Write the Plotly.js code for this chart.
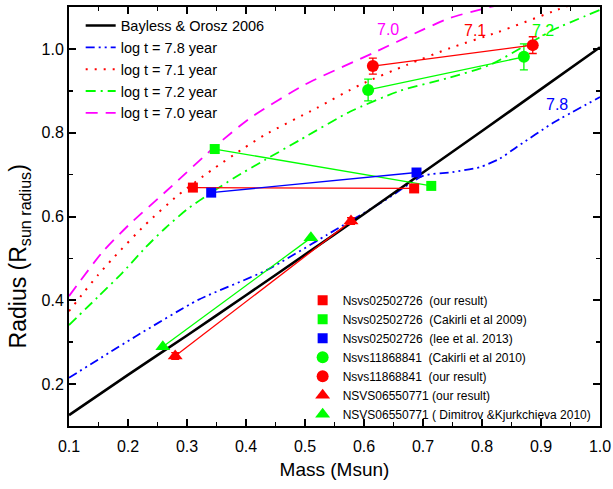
<!DOCTYPE html>
<html>
<head>
<meta charset="utf-8">
<script src="https://cdn.plot.ly/plotly-3.0.1.min.js"></script>
<style>html,body{margin:0;padding:0;background:#fff;}#chart{width:613px;height:489px;}</style>
</head>
<body>
<div id="chart"></div>
<script>
// Bayless & Orosz 2006 relation
const boMass = [0.1, 0.2, 0.3, 0.4, 0.5, 0.6, 0.7, 0.8, 0.9, 1.0];
const boRadius = [0.126, 0.222, 0.316, 0.412, 0.509, 0.606, 0.705, 0.804, 0.904, 1.004];

// Isochrones
const iso78Mass = [0.1, 0.212, 0.319, 0.435, 0.537, 0.636, 0.70, 0.75, 0.797, 0.83, 0.859, 0.92, 1.0];
const iso78Radius = [0.215, 0.313, 0.401, 0.472, 0.556, 0.639, 0.697, 0.706, 0.718, 0.738, 0.766, 0.823, 0.885];

const iso71Mass = [0.1, 0.124, 0.149, 0.175, 0.229, 0.285, 0.342, 0.393, 0.432, 0.52, 0.593, 0.673, 0.746, 0.827, 0.927, 0.95];
const iso71Radius = [0.374, 0.417, 0.46, 0.501, 0.58, 0.651, 0.711, 0.76, 0.795, 0.859, 0.914, 0.962, 1.002, 1.04, 1.093, 1.105];

const iso72Mass = [0.1, 0.149, 0.19, 0.229, 0.263, 0.3, 0.341, 0.381, 0.432, 0.492, 0.576, 0.661, 0.741, 0.814, 0.881, 0.92, 1.0];
const iso72Radius = [0.341, 0.408, 0.465, 0.525, 0.572, 0.617, 0.657, 0.693, 0.735, 0.783, 0.85, 0.90, 0.93, 0.962, 1.014, 1.045, 1.093];

const iso70Mass = [0.1, 0.156, 0.2, 0.266, 0.35, 0.407, 0.5, 0.615, 0.7, 0.746, 0.808, 0.83];
const iso70Radius = [0.41, 0.514, 0.578, 0.662, 0.77, 0.835, 0.915, 0.99, 1.046, 1.074, 1.098, 1.105];

// Observed binaries
const sqOurMass = [0.310, 0.685];
const sqOurRadius = [0.669, 0.667];
const sqCakMass = [0.347, 0.714];
const sqCakRadius = [0.761, 0.673];
const sqLeeMass = [0.341, 0.689];
const sqLeeRadius = [0.657, 0.705];
const ciCakMass = [0.607, 0.871];
const ciCakRadius = [0.902, 0.981];
const ciCakErr = [0.026, 0.031];
const ciOurMass = [0.615, 0.886];
const ciOurRadius = [0.959, 1.009];
const ciOurErr = [0.019, 0.020];
const trOurMass = [0.280, 0.578];
const trOurRadius = [0.267, 0.589];
const trOurErr = [0.008, 0.008];
const trDimMass = [0.259, 0.510];
const trDimRadius = [0.289, 0.549];

const legend2Names = [
  'Nsvs02502726  (our result)',
  'Nsvs02502726  (Cakirli et al 2009)',
  'Nsvs02502726  (lee et al. 2013)',
  'Nsvs11868841  (Cakirli et al 2010)',
  'Nsvs11868841  (our result)',
  'NSVS06550771 (our result)',
  'NSVS06550771 ( Dimitrov &Kjurkchieva 2010)'
];

const RED = '#ff0000', GREEN = '#00ff00', BLUE = '#0000ff', MAG = '#ff00ff';

function curve(x, y, name, color, dash, width, rank) {
  return {x: x, y: y, name: name, mode: 'lines', type: 'scatter', legend: 'legend',
    legendrank: rank, line: {color: color, dash: dash, width: width, shape: 'spline', smoothing: 0.6},
    hoverinfo: 'skip'};
}
function link(x, y, color, err) {
  const t = {x: x, y: y, mode: 'lines', type: 'scatter', showlegend: false,
    line: {color: color, width: 1.3}, hoverinfo: 'skip'};
  if (err) t.error_y = {type: 'data', array: err, visible: true, color: color, thickness: 1.3, width: 4};
  return t;
}
function pts(x, y, name, color, symbol, size, rank) {
  return {x: x, y: y, name: name, mode: 'markers', type: 'scatter', legend: 'legend2',
    legendrank: rank, marker: {color: color, symbol: symbol, size: size}, hoverinfo: 'skip'};
}

const data = [
  curve(iso70Mass, iso70Radius, 'log t = 7.0 year', MAG, '12px,8px', 1.8, 5),
  curve(iso71Mass, iso71Radius, 'log t = 7.1 year', RED, '2px,7px', 2, 3),
  curve(iso72Mass, iso72Radius, 'log t = 7.2 year', GREEN, '10px,5px,2px,5px', 1.8, 4),
  curve(iso78Mass, iso78Radius, 'log t = 7.8 year', BLUE, '9px,4px,2px,4px,2px,4px', 1.8, 2),
  curve(boMass, boRadius, 'Bayless & Orosz 2006', '#000000', 'solid', 2.6, 1),
  link(sqOurMass, sqOurRadius, RED),
  link(sqCakMass, sqCakRadius, GREEN),
  link(sqLeeMass, sqLeeRadius, BLUE),
  link(ciCakMass, ciCakRadius, GREEN, ciCakErr),
  link(ciOurMass, ciOurRadius, RED, ciOurErr),
  link(trOurMass, trOurRadius, RED, trOurErr),
  link(trDimMass, trDimRadius, GREEN),
  pts(sqOurMass, sqOurRadius, legend2Names[0], RED, 'square', 10, 1),
  pts(sqCakMass, sqCakRadius, legend2Names[1], GREEN, 'square', 10, 2),
  pts(sqLeeMass, sqLeeRadius, legend2Names[2], BLUE, 'square', 10, 3),
  pts(ciCakMass, ciCakRadius, legend2Names[3], GREEN, 'circle', 12, 4),
  pts(ciOurMass, ciOurRadius, legend2Names[4], RED, 'circle', 12, 5),
  pts(trOurMass, trOurRadius, legend2Names[5], RED, 'triangle-up', 13, 6),
  pts(trDimMass, trDimRadius, legend2Names[6], GREEN, 'triangle-up', 13, 7)
];

const FONT = 'Liberation Sans, Arial, sans-serif';
const axisCommon = {
  showline: true, linecolor: '#000', linewidth: 2, mirror: 'allticks',
  ticks: 'inside', ticklen: 7, tickwidth: 2, tickcolor: '#000',
  showgrid: false, zeroline: false,
  tickfont: {family: FONT, size: 16, color: '#000'}
};

const layout = {
  width: 613, height: 489,
  margin: {l: 69, r: 13, t: 7, b: 63},
  paper_bgcolor: '#fff', plot_bgcolor: '#fff',
  font: {family: FONT, color: '#000'},
  xaxis: Object.assign({}, axisCommon, {
    range: [0.1, 1.0], dtick: 0.1, tick0: 0, tickformat: '.1f', ticklabelstandoff: 5,
    minor: {dtick: 0.05, ticks: 'inside', ticklen: 4, tickwidth: 1.5, tickcolor: '#000'},
    title: {text: 'Mass (Msun)', font: {family: FONT, size: 19, color: '#000'}, standoff: 8}
  }),
  yaxis: Object.assign({}, axisCommon, {
    range: [0.1, 1.1], dtick: 0.2, tick0: 0, tickformat: '.1f',
    minor: {dtick: 0.1, ticks: 'inside', ticklen: 4, tickwidth: 1.5, tickcolor: '#000'}
  }),
  legend: {
    x: 0.022, y: 0.994, xanchor: 'left', yanchor: 'top',
    bgcolor: 'rgba(0,0,0,0)', borderwidth: 0,
    font: {family: FONT, size: 14.5, color: '#000'}, traceorder: 'normal'
  },
  legend2: {
    x: 0.44, y: 0.335, xanchor: 'left', yanchor: 'top',
    bgcolor: 'rgba(0,0,0,0)', borderwidth: 0,
    font: {family: FONT, size: 12, color: '#000'}, traceorder: 'normal'
  },
  annotations: [
    {text: 'Radius (R<sub>sun radius</sub>)', xref: 'paper', yref: 'paper',
     x: -0.094, y: 0.405, xanchor: 'center', yanchor: 'middle', textangle: -90, showarrow: false,
     font: {family: FONT, size: 23, color: '#000'}},
    {text: '7.0', x: 0.64, y: 1.047, showarrow: false, font: {family: FONT, size: 16, color: MAG}},
    {text: '7.1', x: 0.788, y: 1.045, showarrow: false, font: {family: FONT, size: 16, color: RED}},
    {text: '7.2', x: 0.903, y: 1.045, showarrow: false, font: {family: FONT, size: 16, color: GREEN}},
    {text: '7.8', x: 0.927, y: 0.868, showarrow: false, font: {family: FONT, size: 16, color: BLUE}}
  ]
};

Plotly.newPlot('chart', data, layout, {displayModeBar: false, staticPlot: true});
</script>
</body>
</html>
